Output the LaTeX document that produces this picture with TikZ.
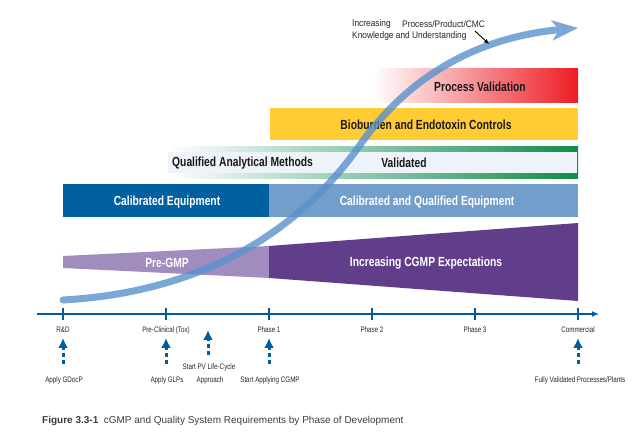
\documentclass[tikz,border=0pt]{standalone}
\usepackage{fontspec}
\setmainfont{Liberation Sans}
\newfontfamily\condf[FakeStretch=0.78]{Liberation Sans}
\newfontfamily\lightf[FakeStretch=0.88]{Liberation Sans}
\usetikzlibrary{arrows.meta}
\definecolor{axisblue}{RGB}{0,94,160}
\definecolor{calibdark}{RGB}{0,96,160}
\definecolor{caliblight}{RGB}{114,158,204}
\definecolor{bioyellow}{RGB}{255,204,51}
\definecolor{pvred}{RGB}{237,28,36}
\definecolor{qgreen}{RGB}{16,140,76}
\definecolor{qfill}{RGB}{238,242,250}
\definecolor{purplelight}{RGB}{160,140,190}
\definecolor{purpledark}{RGB}{97,62,138}
\definecolor{curveblue}{RGB}{90,145,205}
\definecolor{captiongray}{RGB}{60,60,60}
\begin{document}
\begin{tikzpicture}[x=1pt,y=-1pt,
  boxlabel/.style={font=\condf\bfseries\fontsize{13.2}{15}\selectfont, text=black!90, inner sep=0pt},
  whitelabel/.style={boxlabel, text=white},
  ticklabel/.style={font=\condf\fontsize{8}{9}\selectfont, text=black!85, inner sep=0pt},
  toplabel/.style={font=\lightf\fontsize{9.5}{11}\selectfont, text=black!85, inner sep=0pt, anchor=west},
  axisline/.style={draw=axisblue, line width=1.2pt, -{Latex[length=7pt,width=6pt]}},
  tickmark/.style={draw=axisblue, line width=1.2pt},
  dasharrow/.style={draw=axisblue, line width=3pt, dash pattern=on 4pt off 3pt, -{Latex[length=10pt,width=10pt]}},
  curvearrow/.style={draw=curveblue, line width=7pt, line cap=round, -{Stealth[length=26pt,width=20pt,inset=7pt]}}
]
\useasboundingbox (0,0) rectangle (638,446);

% Process Validation band
\shade[left color=white, middle color=pvred!45, right color=pvred] (373,69) rectangle (578,103);
\node[boxlabel] (pv) at (480,87) {Process Validation};

% Bioburden band
\fill[bioyellow] (270,108) rectangle (578,140);
\node[boxlabel] (bio) at (426,125) {Bioburden and Endotoxin Controls};

% Qualified Analytical Methods band
\shade[left color=white, middle color=qgreen!50, right color=qgreen] (167,147) rectangle (578,179);
\fill[qfill] (168,152) rectangle (576.5,173);
\node[boxlabel, anchor=west] (qam) at (172,163) {Qualified Analytical Methods};
\node[boxlabel] (val) at (404,163) {Validated};

% Equipment bands
\fill[calibdark] (63,184) rectangle (269,217);
\fill[caliblight] (269,184) rectangle (578,217);
\node[whitelabel] (cal) at (167,202) {Calibrated Equipment};
\node[whitelabel] (calq) at (427,202) {Calibrated and Qualified Equipment};

% GMP wedges
\fill[purplelight] (63,256) -- (269,246) -- (269,278) -- (63,268) -- cycle;
\fill[purpledark] (269,246) -- (578,223) -- (578,301) -- (269,278) -- cycle;
\node[whitelabel] (pre) at (167,263) {Pre-GMP};
\node[whitelabel] (incg) at (426,263) {Increasing CGMP Expectations};

% Knowledge curve
\coordinate (c0) at (63,300);
\coordinate (c1) at (360,145);
\coordinate (c2) at (578,28);
\begin{scope}[transparency group, opacity=0.8]
\draw[curvearrow] (c0) .. controls (205,292) and (300,230) .. (c1) .. controls (420,60) and (500,35) .. (c2);
\end{scope}

% Top annotation
\node[toplabel] (inc) at (352,24) {Increasing};
\node[toplabel] (ppc) at (402,24) {Process/Product/CMC};
\node[toplabel] (kau) at (352,36) {Knowledge and Understanding};
\coordinate (ka0) at (475,31);
\coordinate (ka1) at (489,44);
\draw[line width=0.9pt, -{Latex[length=5pt,width=4.5pt]}] (ka0) -- (ka1);

% Axis
\coordinate (ax0) at (37,314);
\coordinate (ax1) at (599,314);
\draw[axisline] (ax0) -- (ax1);
\foreach \xx in {63,166,269,372,475,578}{
  \draw[tickmark] (\xx,308) -- (\xx,320);
}
\node[ticklabel] (trd) at (63,330) {R\&D};
\node[ticklabel] (tpc) at (166,330) {Pre-Clinical (Tox)};
\node[ticklabel] (tp1) at (269,330) {Phase 1};
\node[ticklabel] (tp2) at (372,330) {Phase 2};
\node[ticklabel] (tp3) at (475,330) {Phase 3};
\node[ticklabel] (tcm) at (578,330) {Commercial};

% Bottom milestones
\node[ticklabel] (lg) at (64,380) {Apply GDocP};
\node[ticklabel] (lglp) at (167,380) {Apply GLPs};
\node[ticklabel] (lpv1) at (209,367) {Start PV Life-Cycle};
\node[ticklabel] (lpv2) at (210,380) {Approach};
\node[ticklabel] (lcg) at (270,380) {Start Applying CGMP};
\node[ticklabel] (lfv) at (580,380) {Fully Validated Processes/Plants};

\coordinate (a1s) at (63,364);  \coordinate (a1e) at (63,338);
\coordinate (a2s) at (166,364); \coordinate (a2e) at (166,338);
\coordinate (a3s) at (208,355); \coordinate (a3e) at (208,330);
\coordinate (a4s) at (269,364); \coordinate (a4e) at (269,338);
\coordinate (a5s) at (578,364); \coordinate (a5e) at (578,338);
\draw[dasharrow] (a1s) -- (a1e);
\draw[dasharrow] (a2s) -- (a2e);
\draw[dasharrow] (a3s) -- (a3e);
\draw[dasharrow] (a4s) -- (a4e);
\draw[dasharrow] (a5s) -- (a5e);

% Caption
\node[anchor=west, inner sep=0pt, text=captiongray, font=\fontsize{10}{12}\selectfont] (cap) at (42,421)
  {{\bfseries Figure 3.3-1}\ \ cGMP and Quality System Requirements by Phase of Development};
\end{tikzpicture}
\end{document}
